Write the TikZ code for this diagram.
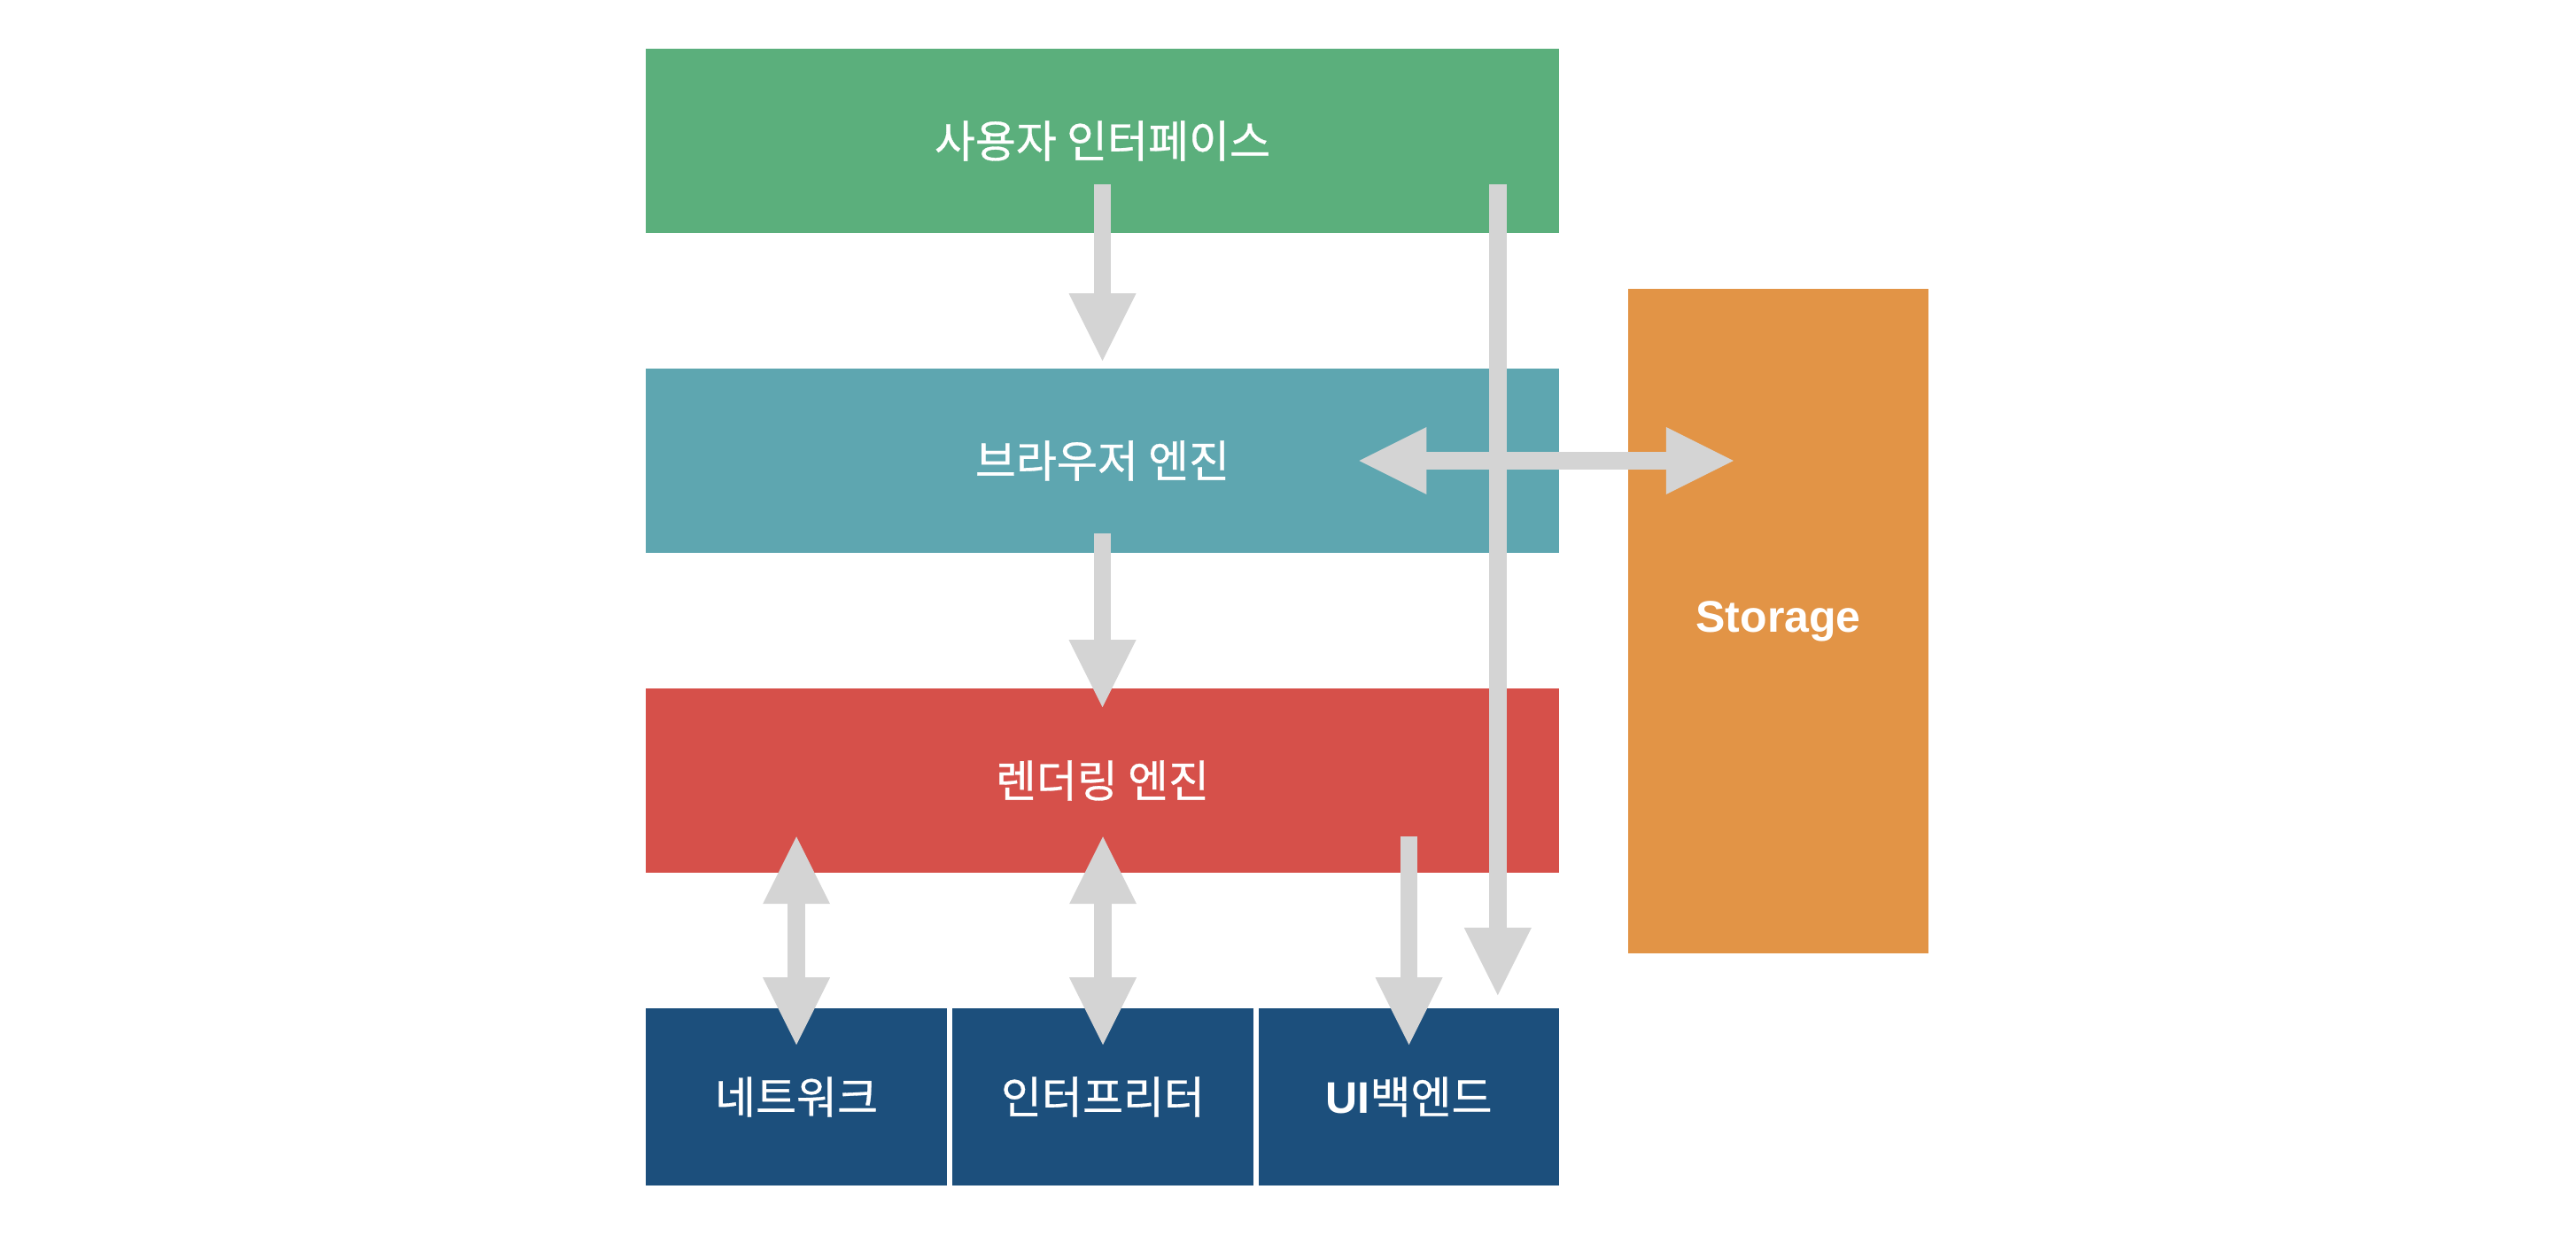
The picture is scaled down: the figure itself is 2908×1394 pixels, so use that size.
\documentclass[tikz,border=0pt]{standalone}
\usepackage{graphicx}
\usepackage{fontspec}
\setmainfont{Liberation Sans}
\newfontfamily\krfont[FakeBold=0.6]{Noto Sans CJK KR}
\usetikzlibrary{arrows.meta,calc}
\definecolor{cgreen}{HTML}{5BAF7C}
\definecolor{cteal}{HTML}{5EA6B0}
\definecolor{cred}{HTML}{D6504A}
\definecolor{cblue}{HTML}{1C4F7C}
\definecolor{corange}{HTML}{E29446}
\definecolor{cgrey}{HTML}{D4D4D4}
\newcommand\kscale[1]{{\krfont #1}}
\begin{document}
\begin{tikzpicture}[x=0.25pt,y=-0.25pt,
  box/.style={rectangle,inner sep=0pt,draw=none,text=white,font=\fontsize{12.5pt}{15pt}\selectfont},
  widebox/.style={box,minimum width=257.75pt,minimum height=52pt},
  smallbox/.style={box,minimum width=85pt,minimum height=50pt},
  tipshape/.tip={Triangle[length=19pt,width=19pt,line width=0pt]},
  conn/.style={draw=cgrey,line width=4.85pt,-tipshape},
  dconn/.style={draw=cgrey,line width=4.85pt,tipshape-tipshape}
]
\useasboundingbox (0,0) rectangle (2908,1394);
\node[widebox,fill=cgreen] (ui) at (1244.5,159) {\kscale{사용자 인터페이스}};
\node[widebox,fill=cteal] (be) at (1244.5,520) {\kscale{브라우저 엔진}};
\node[widebox,fill=cred] (re) at (1244.5,881) {\kscale{렌더링 엔진}};
\node[smallbox,fill=cblue] (net) at (899,1238) {\kscale{네트워크}};
\node[smallbox,fill=cblue] (js) at (1245,1238) {\kscale{인터프리터}};
\node[smallbox,fill=cblue,minimum width=84.75pt] (uib) at (1590.5,1238) {{\bfseries UI}\kscale{백엔드}};
\node[box,fill=corange,minimum width=84.75pt,minimum height=187.5pt,font=\bfseries\fontsize{12.5pt}{15pt}\selectfont] (st) at (2007.5,701) {Storage};
% connectors
\draw[conn] ($(ui.south)+(0,-55.5)$) -- ($(be.north)+(0,-8)$);
\draw[conn] ($(ui.south east)+(-70,-55.5)$) -- ($(uib.north east)+(-70,-14)$);
\draw[dconn] ($(be.east)+(-226.5,0)$) -- ($(st.west |- be.east)+(119.7,0)$);
\draw[conn] ($(be.south)+(0,-23)$) -- ($(re.north)+(0,22)$);
\draw[dconn] ($(net.north)+(0,-193)$) -- ($(net.north)+(0,42)$);
\draw[dconn] ($(js.north)+(0,-193)$) -- ($(js.north)+(0,42)$);
\draw[conn] ($(uib.north)+(0,-193)$) -- ($(uib.north)+(0,42)$);
\end{tikzpicture}
\end{document}
